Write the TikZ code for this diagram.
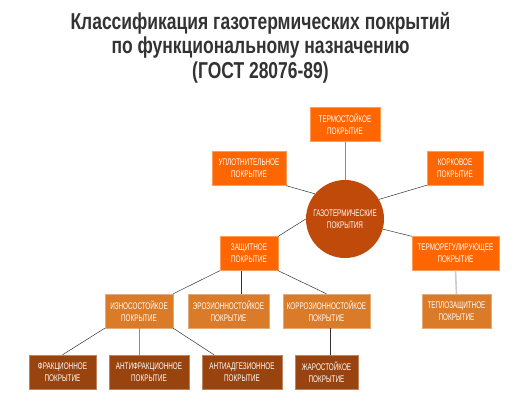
\documentclass[tikz,border=0pt]{standalone}
\usepackage{fontspec}
\setmainfont{Liberation Sans}
\newfontfamily\titlefont{Liberation Sans}[FakeStretch=0.76]
\newfontfamily\boxfont{Liberation Sans}[FakeStretch=0.66]
\definecolor{cOr}{HTML}{FF6600}
\definecolor{cCirc}{HTML}{C04A0A}
\definecolor{cMid}{HTML}{DA7B2A}
\definecolor{cDark}{HTML}{99440F}
\definecolor{cTitle}{HTML}{333333}
\begin{document}
\begin{tikzpicture}[x=1pt,y=-1pt,
  basebox/.style={rectangle, inner sep=0pt, minimum height=34pt, align=center, text=white,
    font=\boxfont\fontsize{9.6}{12}\selectfont, line width=0.4pt},
  orbox/.style={basebox, fill=cOr, draw=cOr!65!white},
  midbox/.style={basebox, fill=cMid, draw=cMid!65!white},
  darkbox/.style={basebox, fill=cDark, draw=cDark!65!white},
  ttl/.style={anchor=base, text=cTitle, font=\titlefont\bfseries\fontsize{23}{24}\selectfont, inner sep=0pt},
  conn/.style={draw=black!80, line width=0.5pt},
  gconn/.style={draw=black!45, line width=0.6pt},
  lconn/.style={draw=black!20, line width=1.6pt}]
\useasboundingbox (0,0) rectangle (531,405);
\fill[white] (0,0) rectangle (531,405);

\node[ttl] (t1) at (260.5,29) {Классификация газотермических покрытий};
\node[ttl] (t2) at (260.5,53) {по функциональному назначению};
\node[ttl] (t3) at (260.5,78) {(ГОСТ 28076-89)};

\node[circle, fill=cCirc, minimum size=78pt, inner sep=0pt, align=center, text=white,
  font=\boxfont\fontsize{9.6}{12}\selectfont] (circ) at (345,219) {ГАЗОТЕРМИЧЕСКИЕ\\ПОКРЫТИЯ};

\node[orbox, minimum width=70pt] (termo) at (345,124.5) {ТЕРМОСТОЙКОЕ\\ПОКРЫТИЕ};
\node[orbox, minimum width=74pt] (upl) at (249,168.5) {УПЛОТНИТЕЛЬНОЕ\\ПОКРЫТИЕ};
\node[orbox, minimum width=56pt] (kork) at (455,168) {КОРКОВОЕ\\ПОКРЫТИЕ};
\node[orbox, minimum width=87pt] (treg) at (455.5,253.5) {ТЕРМОРЕГУЛИРУЮЩЕЕ\\ПОКРЫТИЕ};
\node[orbox, minimum width=58pt] (zasch) at (249,253.5) {ЗАЩИТНОЕ\\ПОКРЫТИЕ};

\node[midbox, minimum width=69pt] (tepl) at (456.5,311) {ТЕПЛОЗАЩИТНОЕ\\ПОКРЫТИЕ};
\node[midbox, minimum width=68pt] (izn) at (139,311) {ИЗНОСОСТОЙКОЕ\\ПОКРЫТИЕ};
\node[midbox, minimum width=81pt] (eroz) at (228.5,311) {ЭРОЗИОННОСТОЙКОЕ\\ПОКРЫТИЕ};
\node[midbox, minimum width=87pt] (korr) at (326.5,311) {КОРРОЗИОННОСТОЙКОЕ\\ПОКРЫТИЕ};

\node[darkbox, minimum width=67pt] (frak) at (62.5,372) {ФРАКЦИОННОЕ\\ПОКРЫТИЕ};
\node[darkbox, minimum width=80pt] (afrak) at (149,372) {АНТИФРАКЦИОННОЕ\\ПОКРЫТИЕ};
\node[darkbox, minimum width=80pt] (aadg) at (242,372) {АНТИАДГЕЗИОННОЕ\\ПОКРЫТИЕ};
\node[darkbox, minimum width=63pt] (zhar) at (326.5,372) {ЖАРОСТОЙКОЕ\\ПОКРЫТИЕ};

\draw[gconn] (termo.south) -- (circ.north);
\draw[conn] (upl.south east) -- (circ.140);
\draw[conn] (kork.south west) -- (circ.30);
\draw[conn] (circ.-15) -- (treg.north west);
\draw[conn] (zasch.north east) -- (circ.west);
\draw[lconn] (treg.south) -- (tepl.north);

\draw[conn] (zasch.south west) -- (izn.north east);
\draw[conn] (zasch.south -| 241,0) -- (eroz.north -| 241,0);
\draw[conn] (zasch.south east) -- (korr.north);

\draw[conn] (izn.south west) -- (frak.north);
\draw[gconn] (izn.south) -- (afrak.north -| izn.south);
\draw[conn] (izn.south east) -- (aadg.north -| 214,0);
\draw[conn] (korr.south -| 330,0) -- (zhar.north -| 330,0);
\end{tikzpicture}
\end{document}
